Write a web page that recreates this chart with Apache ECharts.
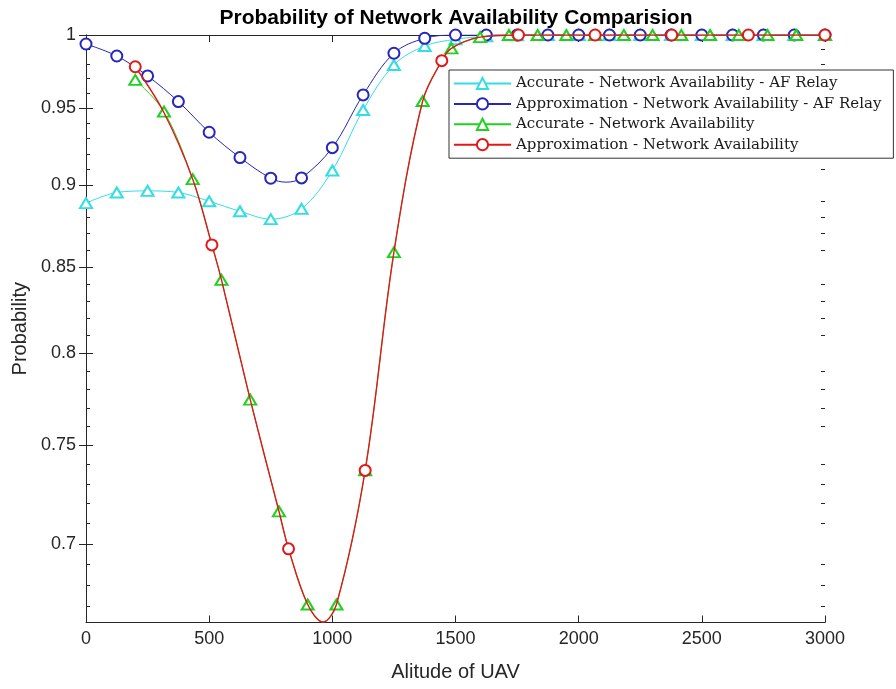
<!DOCTYPE html>
<html><head><meta charset="utf-8">
<script src="https://cdn.jsdelivr.net/npm/echarts@6/dist/echarts.min.js"></script>
<style>html,body{margin:0;padding:0;background:#fff}#c{width:896px;height:689px}</style>
</head><body><div id="c"></div>
<script>
// ---------- text ----------
const chartTitle = 'Probability of Network Availability Comparision';
const xName = 'Alitude of UAV';
const yName = 'Probability';
const seriesNames = [
  'Accurate - Network Availability - AF Relay',
  'Approximation - Network Availability - AF Relay',
  'Accurate - Network Availability',
  'Approximation - Network Availability'
];
// ---------- ticks ----------
const xTicks = [0, 500, 1000, 1500, 2000, 2500, 3000];
const yTicks = [0.7, 0.75, 0.8, 0.85, 0.9, 0.95, 1];
const yMinorTicks = [0.67, 0.68, 0.69, 0.71, 0.72, 0.73, 0.74, 0.76, 0.77, 0.78, 0.79,
  0.81, 0.82, 0.83, 0.84, 0.86, 0.87, 0.88, 0.89, 0.91, 0.92, 0.93, 0.94, 0.96, 0.97, 0.98, 0.99];
// ---------- AF relay series (markers at every point) ----------
const afX = [0, 125, 250, 375, 500, 625, 750, 875, 1000, 1125, 1250, 1375, 1500,
  1625, 1750, 1875, 2000, 2125, 2250, 2375, 2500, 2625, 2750, 2875, 3000];
const accAF = [0.8888, 0.8955, 0.8965, 0.8955, 0.8900, 0.8838, 0.8789, 0.8853, 0.9094, 0.9488,
  0.9792, 0.9923, 0.9970, 0.9990, 0.9997, 1, 1, 1, 1, 1, 1, 1, 1, 1, 1];
const apprAF = [0.9937, 0.9854, 0.9717, 0.9544, 0.9341, 0.9177, 0.9045, 0.9047, 0.9241, 0.9589,
  0.9873, 0.9977, 1, 1, 1, 1, 1, 1, 1, 1, 1, 1, 1, 1, 1];
// extra curve point (no marker) for approx AF relay
const apprAFLineX = [812];
const apprAFLineY = [0.9020];
// ---------- no relay series ----------
const naX = [200, 316.7, 433.3, 550, 666.7, 783.3, 900, 1016.7, 1133.3, 1250, 1366.7, 1483.3,
  1600, 1716.7, 1833.3, 1950, 2066.7, 2183.3, 2300, 2416.7, 2533.3, 2650, 2766.7, 2883.3, 3000];
const accNA = [0.969, 0.9477, 0.9039, 0.8423, 0.7745, 0.7162, 0.6709, 0.6709, 0.737, 0.8588,
  0.9548, 0.9907, 0.9985, 1, 1, 1, 1, 1, 1, 1, 1, 1, 1, 1, 1];
// extra curve points (no marker)
const accNALineX = [511.1, 822.2, 962, 1444.4];
const accNALineY = [0.8632, 0.6976, 0.6627, 0.9822];
const apprNAX = [200, 511.1, 822.2, 1133.3, 1444.4, 1755.6, 2066.7, 2377.8, 2688.9, 3000];
const apprNA = [0.978, 0.8632, 0.6976, 0.737, 0.9822, 1, 1, 1, 1, 1];
// extra curve points (no marker)
const apprNALineX = [316.7, 433.3, 550, 666.7, 783.3, 900, 962, 1016.7, 1250, 1366.7, 1483.3, 1600];
const apprNALineY = [0.947, 0.9039, 0.8423, 0.7745, 0.7162, 0.6709, 0.6627, 0.6709, 0.8588, 0.9548, 0.9907, 0.9985];

const colors = ['#33dde3', '#2626b8', '#22d022', '#e01818'];
const lineWidths = [1, 1, 1, 1.4];
const Y_MIN = 0.6625, Y_MAX = 1;
const axisCol = '#262626';

function mergeLine(mx, my, lx, ly) {
  const pts = mx.map((x, i) => ({ value: [x, my[i]] }));
  lx.forEach((x, i) => pts.push({ value: [x, ly[i]], symbol: 'none' }));
  pts.sort((a, b) => a.value[0] - b.value[0]);
  return pts;
}

function mkSeries(i, data, symbol, size) {
  return {
    type: 'line', name: seriesNames[i], data: data,
    xAxisIndex: 0, yAxisIndex: 0,
    smooth: 0.35, showAllSymbol: true,
    symbol: symbol, symbolSize: size,
    lineStyle: { color: colors[i], width: lineWidths[i] },
    itemStyle: { color: colors[i], borderColor: colors[i], borderWidth: 1 },
    emphasis: { disabled: true }, z: 2 + i
  };
}

const tickFmt = v => String(+(+v).toFixed(2));

function yAx(pos, ticks, len, showLabel, showLine) {
  return {
    type: 'log', logBase: 10, min: Y_MIN, max: Y_MAX, position: pos,
    axisLine: { show: showLine, lineStyle: { color: axisCol, width: 1 } },
    axisTick: { show: true, inside: true, length: len, customValues: ticks, lineStyle: { color: axisCol } },
    axisLabel: { show: showLabel, customValues: yTicks, formatter: tickFmt, color: axisCol,
      fontFamily: 'Liberation Sans', fontSize: 18, margin: 10 },
    splitLine: { show: false }, minorTick: { show: false }
  };
}

const chart = echarts.init(document.getElementById('c'), null, { renderer: 'canvas' });
const yLeft = yAx('left', yTicks, 7, true, true);
yLeft.name = yName; yLeft.nameLocation = 'middle'; yLeft.nameGap = 53;
yLeft.nameTextStyle = { color: axisCol, fontFamily: 'Liberation Sans', fontSize: 20 };

chart.setOption({
  animation: false,
  backgroundColor: '#fff',
  title: {
    text: chartTitle, left: 451, top: 3, textAlign: 'center',
    textStyle: { color: '#000', fontFamily: 'Liberation Sans', fontWeight: 'bold', fontSize: 21 }
  },
  grid: { left: 86, right: 71, top: 35, bottom: 66.5, containLabel: false, outerBoundsMode: 'none' },
  legend: {
    orient: 'vertical', left: 449, top: 70,
    data: seriesNames,
    itemWidth: 57, itemHeight: 14, itemGap: 5.4,
    padding: [6, 12, 6, 4],
    backgroundColor: '#fff', borderColor: '#333', borderWidth: 1,
    textStyle: { fontFamily: 'DejaVu Serif', fontSize: 15, color: '#1a1a1a' },
    selectedMode: false
  },
  xAxis: [
    {
      type: 'value', min: 0, max: 3000, interval: 500, position: 'bottom',
      name: xName, nameLocation: 'middle', nameGap: 40,
      nameTextStyle: { color: axisCol, fontFamily: 'Liberation Sans', fontSize: 20 },
      axisLine: { show: true, lineStyle: { color: axisCol, width: 1 } },
      axisTick: { show: true, inside: true, length: 7, lineStyle: { color: axisCol } },
      axisLabel: { color: axisCol, fontFamily: 'Liberation Sans', fontSize: 18, margin: 8,
        customValues: xTicks, formatter: v => String(v) },
      splitLine: { show: false }
    },
    {
      type: 'value', min: 0, max: 3000, interval: 500, position: 'top',
      axisLine: { show: true, lineStyle: { color: axisCol, width: 1 } },
      axisTick: { show: true, inside: true, length: 7, lineStyle: { color: axisCol } },
      axisLabel: { show: false }, splitLine: { show: false }
    }
  ],
  yAxis: [
    yLeft,
    yAx('right', yTicks, 7, false, true),
    yAx('left', yMinorTicks, 4, false, false),
    yAx('right', yMinorTicks, 4, false, false)
  ],
  series: [
    mkSeries(0, afX.map((x, i) => [x, accAF[i]]), 'emptyTriangle', [12, 10]),
    mkSeries(1, mergeLine(afX, apprAF, apprAFLineX, apprAFLineY), 'emptyCircle', 11),
    mkSeries(2, mergeLine(naX, accNA, accNALineX, accNALineY), 'emptyTriangle', [12, 10]),
    mkSeries(3, mergeLine(apprNAX, apprNA, apprNALineX, apprNALineY), 'emptyCircle', 11)
  ]
});
</script>
</body></html>
